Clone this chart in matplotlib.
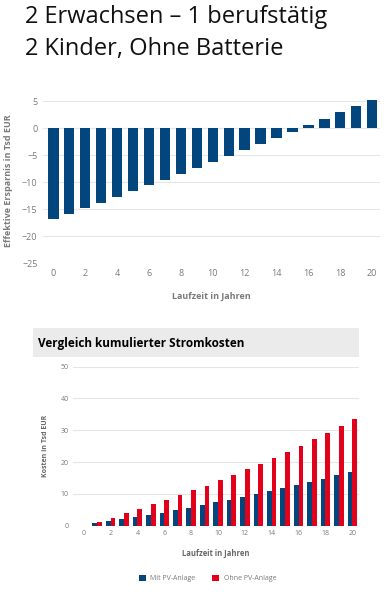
import matplotlib
matplotlib.use("Agg")
import matplotlib.pyplot as plt
from matplotlib.patches import Rectangle
import numpy as np

plt.rcParams['font.family'] = ['Open Sans', 'DejaVu Sans']

years = list(range(21))
ersparnis = [-16.8, -15.8, -14.8, -13.8, -12.7, -11.7, -10.6, -9.5, -8.5, -7.4,
             -6.2, -5.1, -4.0, -2.9, -1.8, -0.6, 0.6, 1.7, 3.0, 4.1, 5.3]
mit_pv = [0.0, 0.7, 1.4, 2.0, 2.7, 3.5, 4.1, 4.9, 5.7, 6.5, 7.4, 8.1, 8.9,
          9.9, 10.8, 11.8, 12.8, 13.8, 14.8, 15.9, 16.9]
ohne_pv = [0.0, 1.3, 2.5, 3.9, 5.3, 6.7, 8.1, 9.7, 11.1, 12.6, 14.3, 16.0,
           17.7, 19.5, 21.4, 23.2, 25.1, 27.1, 29.2, 31.3, 33.4]
x_ticks = list(range(0, 21, 2))

BLUE = "#03457d"
RED = "#e2001a"
GRAY_TXT = "#7a7a7a"
GRID = "#e6e6e6"

fig = plt.figure(figsize=(3.84, 5.98), dpi=100)

fig.text(25/384, 1-23/598, "2 Erwachsen \u2013 1 berufst\u00e4tig", fontsize=17, va='baseline', ha='left', color='#111111')
fig.text(25/384, 1-55/598, "2 Kinder, Ohne Batterie", fontsize=17, va='baseline', ha='left', color='#111111')

# Top chart
ax1 = fig.add_axes([0.112, 0.560, 0.878, 0.275])
ax1.bar(years, ersparnis, width=0.65, color=BLUE, zorder=3)
ax1.set_xlim(-0.65, 20.5)
ax1.set_ylim(-25, 5.5)
ax1.set_yticks([5, 0, -5, -10, -15, -20, -25])
ax1.set_xticks(x_ticks)
ax1.grid(axis='y', color=GRID, linewidth=0.8, zorder=0)
for s in ax1.spines.values():
    s.set_visible(False)
ax1.tick_params(length=0, labelsize=6.5, colors=GRAY_TXT, pad=4)
ax1.set_ylabel("Effektive Ersparnis in Tsd EUR", fontsize=6.5, fontweight='bold', color=GRAY_TXT, labelpad=6)
ax1.set_xlabel("Laufzeit in Jahren", fontsize=6.5, fontweight='bold', color=GRAY_TXT, labelpad=10)

# Bottom chart title box
fig.patches.append(Rectangle((33/384, 1-357/598), (359-33)/384, 29/598,
                             transform=fig.transFigure, facecolor="#ebebeb", edgecolor='none'))
fig.text(38/384, 1-343/598, "Vergleich kumulierter Stromkosten", fontsize=8.5, fontweight='bold',
         va='center', ha='left', color='black')

ax2 = fig.add_axes([0.190, 0.121, 0.745, 0.266])
xs = np.array(years)
ax2.bar(xs - 0.175, mit_pv, width=0.35, color=BLUE, zorder=3, label="Mit PV-Anlage")
ax2.bar(xs + 0.175, ohne_pv, width=0.35, color=RED, zorder=3, label="Ohne PV-Anlage")
ax2.set_xlim(-0.8, 20.5)
ax2.set_ylim(0, 50)
ax2.set_yticks([0, 10, 20, 30, 40, 50])
ax2.set_xticks(x_ticks)
ax2.grid(axis='y', color=GRID, linewidth=0.8, zorder=0)
for s in ax2.spines.values():
    s.set_visible(False)
ax2.tick_params(length=0, labelsize=5, colors=GRAY_TXT, pad=3)
ax2.set_ylabel("Kosten in Tsd EUR", fontsize=5, fontweight='bold', color="#666666", labelpad=8)
ax2.set_xlabel("Laufzeit in Jahren", fontsize=5.5, fontweight='bold', color="#666666", labelpad=9)
leg = ax2.legend(loc='upper center', bbox_to_anchor=(0.47, -0.27), ncol=2, frameon=False,
                 fontsize=5, handlelength=1.0, handleheight=1.0, columnspacing=2.5, handletextpad=0.6)
for t in leg.get_texts():
    t.set_color(GRAY_TXT)

fig.savefig("out.png", dpi=100)
